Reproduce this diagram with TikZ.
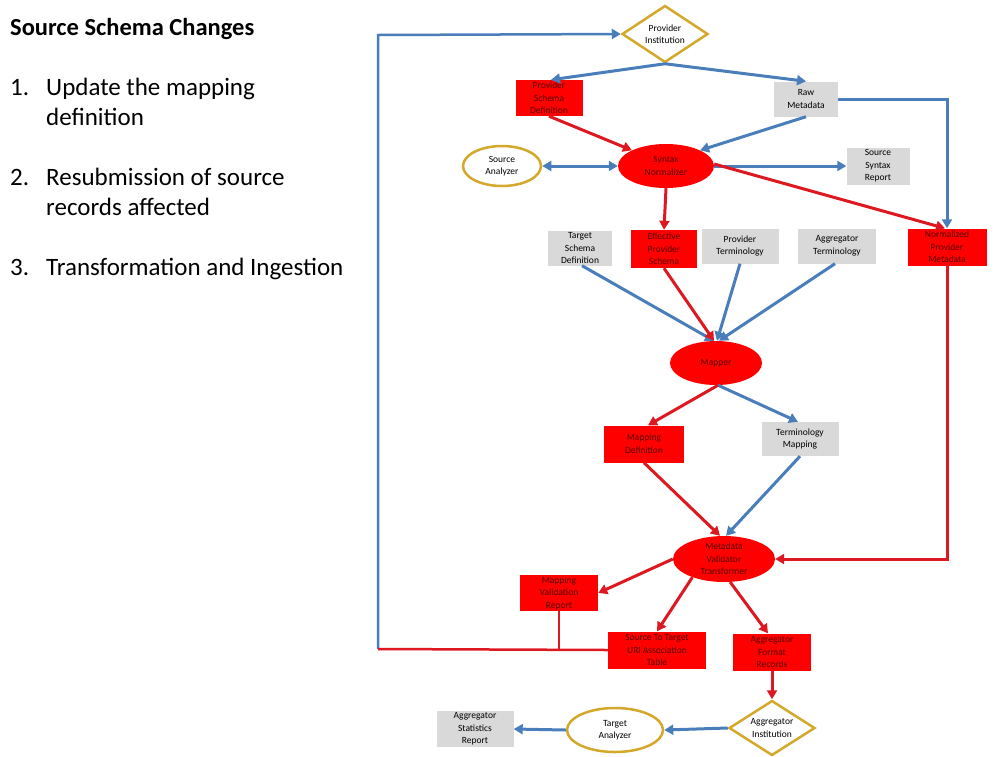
\documentclass[tikz,border=0pt]{standalone}
\usepackage{fontspec}
\setmainfont{Carlito}
\usetikzlibrary{shapes.geometric,arrows.meta}
\definecolor{myred}{RGB}{255,0,0}
\definecolor{linered}{RGB}{222,24,32}
\definecolor{myblue}{RGB}{74,126,187}
\definecolor{mygold}{RGB}{212,168,42}
\definecolor{mygray}{RGB}{217,217,217}
\definecolor{redtext}{RGB}{85,0,0}
\begin{document}
\begin{tikzpicture}[x=1pt,y=-1pt,
 base/.style={font=\fontsize{9.5}{12.5}\selectfont, align=center, inner sep=0pt},
 redbox/.style={base, rectangle, fill=myred, text=redtext},
 graybox/.style={base, rectangle, fill=mygray, text=black},
 redell/.style={base, ellipse, fill=myred, text=redtext},
 goldell/.style={base, ellipse, draw=mygold, line width=2.5pt, fill=white},
 golddia/.style={base, diamond, shape aspect=1.5, draw=mygold, line width=2.5pt, fill=white},
 barrow/.style={draw=myblue, line width=3pt, -{Triangle[length=9pt,width=10pt]}},
 rarrow/.style={draw=linered, line width=3pt, -{Triangle[length=9pt,width=10pt]}},
 bline/.style={draw=myblue, line width=2.5pt},
 rline/.style={draw=linered, line width=2.5pt},
 listtext/.style={anchor=base west, inner sep=0pt, align=left, font=\fontsize{25}{30}\selectfont},
]
\useasboundingbox (0,0) rectangle (1008,756);

% left text
\node[anchor=base west, inner sep=0pt, font=\bfseries\fontsize{24.5}{28}\selectfont] (title) at (10,35) {Source Schema Changes};
\node[listtext] (n1) at (10,95) {1.};
\node[listtext] (t1) at (46,125) {Update the mapping\\definition};
\node[listtext] (n2) at (10,185) {2.};
\node[listtext] (t2) at (46,215) {Resubmission of source\\records affected};
\node[listtext] (n3) at (10,275) {3.};
\node[listtext] (t3) at (46,275) {Transformation and Ingestion};

% nodes
\node[golddia, minimum width=86pt, minimum height=57pt] (pi) at (665,34) {Provider\\Institution};
\node[redbox, minimum width=67pt, minimum height=36pt] (psd) at (549,98) {Provider\\Schema\\Definition};
\node[graybox, minimum width=64pt, minimum height=35pt] (rm) at (806,99) {Raw\\Metadata};
\node[goldell, minimum width=78pt, minimum height=40pt] (sa) at (502,166) {Source\\Analyzer};
\node[redell, minimum width=96pt, minimum height=44pt] (sn) at (666,166) {Syntax\\Normalizer};
\node[graybox, minimum width=63pt, minimum height=37pt] (ssr) at (878,166) {Source\\Syntax\\Report};
\node[graybox, minimum width=64pt, minimum height=35pt] (tsd) at (580,248) {Target\\Schema\\Definition};
\node[redbox, minimum width=66pt, minimum height=38pt] (eps) at (664,249) {Effective\\Provider\\Schema};
\node[graybox, minimum width=77pt, minimum height=35pt] (pt) at (740,246) {Provider\\Terminology};
\node[graybox, minimum width=78pt, minimum height=35pt] (at) at (837,246) {Aggregator\\Terminology};
\node[redbox, minimum width=79pt, minimum height=37pt] (npm) at (947,247) {Normalized\\Provider\\Metadata};
\node[redell, minimum width=92pt, minimum height=44pt] (m) at (716,363) {Mapper};
\node[redbox, minimum width=80pt, minimum height=37pt] (md) at (644,444) {Mapping\\Definition};
\node[graybox, minimum width=77pt, minimum height=34pt] (tm) at (800,439) {Terminology\\Mapping};
\node[redell, minimum width=102pt, minimum height=46pt] (mvt) at (724,559) {Metadata\\Validator\\Transformer};
\node[redbox, minimum width=78pt, minimum height=36pt] (mvr) at (559,593) {Mapping\\Validation\\Report};
\node[redbox, minimum width=98pt, minimum height=37pt] (stu) at (657,650) {Source To Target\\URI Association\\Table};
\node[redbox, minimum width=78pt, minimum height=37pt] (afr) at (772,652) {Aggregator\\Format\\Records};
\node[golddia, minimum width=86pt, minimum height=55pt] (ai) at (772,728) {Aggregator\\Institution};
\node[goldell, minimum width=96pt, minimum height=44pt] (ta) at (615,730) {Target\\Analyzer};
\node[graybox, minimum width=77pt, minimum height=36pt] (asr) at (475,729) {Aggregator\\Statistics\\Report};

\coordinate (lc) at (378,649);
\coordinate (tc) at (378,35);

% blue connectors
\draw[barrow] (pi.south) -- ([xshift=2pt]psd.north);
\draw[barrow] (pi.south) -- (rm.north);
\draw[barrow] (rm.east) -| (npm.north);
\draw[barrow] (rm.south) -- (sn.north east);
\draw[barrow, {Triangle[length=9pt,width=10pt]}-{Triangle[length=9pt,width=10pt]}] (sa.east) -- (sn.west);
\draw[barrow] (sn.east) -- (ssr.west);
\draw[barrow] ([xshift=2pt]tsd.south) -- ([xshift=-2pt]m.north);
\draw[barrow] (pt.south) -- ([xshift=1pt]m.north);
\draw[barrow] ([xshift=-2pt]at.south) -- ([xshift=3pt]m.north);
\draw[barrow] ([xshift=2pt]m.south) -- ([xshift=-2pt]tm.north);
\draw[barrow] (tm.south) -- ([xshift=2pt]mvt.north);
\draw[barrow] (ai.west) -- (ta.east);
\draw[barrow] (ta.west) -- (asr.east);
\draw[bline, -{Triangle[length=9pt,width=10pt]}] (lc) -- (tc) -- (pi.west);

% red connectors
\draw[rarrow] (psd.south) -- (sn.north west);
\draw[rarrow] (sn.south) -- (eps.north);
\draw[rarrow] ([yshift=2pt]sn.east) -- ([xshift=-2pt]npm.north);
\draw[rarrow] (eps.south) -- ([xshift=-2pt]m.north);
\draw[rarrow] (npm.south) |- (mvt.east);
\draw[rarrow] ([xshift=2pt]m.south) -- ([xshift=4pt]md.north);
\draw[rarrow] (md.south) -- ([xshift=-4pt]mvt.north);
\draw[rarrow] (mvt.west) -- (mvr.east);
\draw[rarrow] (mvt.-150) -- (stu.north);
\draw[rarrow] (mvt.-75) -- ([xshift=-4pt]afr.north);
\draw[rarrow] (afr.south) -- (ai.north);
\draw[rline] (stu.west) -- (lc);
\draw[rline] (mvr.south) -- (mvr.south |- stu.west);
\end{tikzpicture}
\end{document}
